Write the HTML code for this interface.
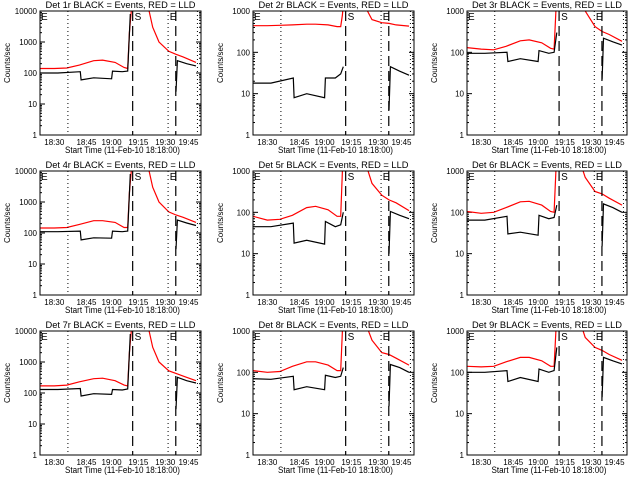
<!DOCTYPE html>
<html>
<head>
<meta charset="utf-8">
<style>
  html,body{margin:0;padding:0;background:#fff;}
  svg{display:block;}
  text{font-family:"Liberation Sans",sans-serif;fill:#000;}
</style>
</head>
<body>
<svg id="chart" width="640" height="480" viewBox="0 0 640 480" xmlns="http://www.w3.org/2000/svg">
  <rect x="0" y="0" width="640" height="480" fill="#fff"/>
</svg>
<script>
// ---- data (time in minutes from 18:22) ----
const blackTimes = [0,10,22.5,23,30,40,40.5,46,49,50.5,52,76,76.8,82,87.2];
const redTimes = [0,8,15,22,30,35,42,47,49,50,51.5,61,63,66.5,72,76,80,87.2];
const black1 = [100,100,110,60,70,65,115,110,115,8000,null,25,250,200,170];
const red1 = [140,140,145,180,250,260,220,150,140,2000,20000,10000,3000,1000,500,400,330,220];
const black2 = [18,18,24,8,10,8,24,24,30,45,null,4,45,35,28];
const red2 = [440,440,450,460,480,480,460,420,420,800,5000,3000,1200,620,520,500,460,430];
const black3 = [95,95,100,60,70,60,110,95,100,300,null,22,220,180,150];
const red3 = [130,120,115,140,190,200,170,125,120,1000,5000,5000,2500,1000,420,320,270,185];
const black4 = [110,110,115,60,70,68,115,110,115,8000,null,30,260,210,175];
const red4 = [145,145,150,190,250,250,220,150,150,2000,20000,10000,3000,1000,480,380,320,220];
const black5 = [45,45,55,18,21,17,60,45,50,100,null,10,105,85,70];
const red5 = [80,65,68,85,130,140,115,80,80,1000,5000,3000,1500,500,260,200,170,110];
const black6 = [65,65,80,30,33,28,85,70,75,150,null,15,160,130,100];
const red6 = [105,95,100,130,180,185,150,105,100,1000,5000,3000,2000,700,320,280,220,150];
const black7 = [130,130,140,80,95,90,130,125,135,8000,null,30,320,250,210];
const red7 = [170,170,180,230,290,300,250,180,170,2000,20000,10000,3000,1000,520,430,350,250];
const black8 = [70,68,80,38,45,38,85,75,80,130,null,15,155,130,100];
const red8 = [110,100,105,140,180,180,150,110,110,1000,5000,3000,1500,600,300,270,220,150];
const black9 = [100,100,110,60,75,60,120,100,110,400,null,25,230,190,160];
const red9 = [140,135,140,180,230,230,190,140,140,1000,5000,3000,2000,700,400,340,270,195];
const yMaxes = [10000,1000,1000,10000,1000,1000,10000,1000,1000];
const xTickLabels = ["18:30","18:45","19:00","19:15","19:30","19:45"];
const xTickTimes = [8,26,40,55,70,83];
const dottedTimes = [15.6,71.6,88];
const dashedTimes = [51.8,75.9];
const startTime = 0, endTime = 90;

const blacks = [black1,black2,black3,black4,black5,black6,black7,black8,black9];
const reds = [red1,red2,red3,red4,red5,red6,red7,red8,red9];

const svg = document.getElementById('chart');
const NS = 'http://www.w3.org/2000/svg';
function mk(tag, attrs, parent){
  const e = document.createElementNS(NS, tag);
  for (const k in attrs) e.setAttribute(k, attrs[k]);
  (parent||svg).appendChild(e);
  return e;
}
const colLeft = [40,253,467], colRight = [201,414,627];
const rowTop = [11,171,331], plotH = 124;

for (let p = 0; p < 9; p++){
  const r = Math.floor(p/3), c = p%3;
  const L = colLeft[c], R = colRight[c], T = rowTop[r], B = T + plotH;
  const yMax = yMaxes[p];
  const dec = Math.log10(yMax);
  const xS = t => L + (t - startTime)/(endTime - startTime)*(R - L);
  const yS = v => B - Math.log10(v)/dec*(B - T);

  const g = mk('g', {});
  
  

  const clipId = 'clip' + p;
  const cp = mk('clipPath', {id: clipId}, g);
  mk('rect', {x: L, y: T, width: R-L, height: B-T}, cp);

  // title
  const title = mk('text', {x: (L+R)/2, y: T-3, 'font-size': 9.5, 'text-anchor': 'middle', textLength: 150, lengthAdjust: 'spacingAndGlyphs'}, g);
  title.textContent = 'Det ' + (p+1) + 'r BLACK = Events, RED = LLD';
  
  

  // y-axis title
  const cy = (T+B)/2 - 10;
  const yt = mk('text', {x: L-30, y: cy, 'font-size': 8, 'text-anchor': 'middle', transform: 'rotate(-90 ' + (L-30) + ' ' + cy + ')'}, g);
  yt.textContent = 'Counts/sec';
  
  

  // y ticks
  for (let d = 0; d <= dec; d++){
    const v = Math.pow(10, d);
    const y = yS(v);
    const lab = mk('text', {x: L-3, y: y+3, 'font-size': 8, 'text-anchor': 'end'}, g);
    lab.textContent = String(v);
    
    
    mk('line', {x1: L, x2: L+5, y1: y, y2: y, stroke: '#000', 'stroke-width': 1}, g);
    mk('line', {x1: R, x2: R-5, y1: y, y2: y, stroke: '#000', 'stroke-width': 1}, g);
    if (d < dec){
      for (let m = 2; m <= 9; m++){
        const ym = yS(v*m);
        mk('line', {x1: L, x2: L+2, y1: ym, y2: ym, stroke: '#000', 'stroke-width': 1}, g);
        mk('line', {x1: R, x2: R-2, y1: ym, y2: ym, stroke: '#000', 'stroke-width': 1}, g);
      }
    }
  }
  // x tick labels
  for (let i = 0; i < xTickLabels.length; i++){
    const lab = mk('text', {x: xS(xTickTimes[i]), y: B+10, 'font-size': 8, 'text-anchor': 'middle'}, g);
    lab.textContent = xTickLabels[i];
    
    
  }
  const xt = mk('text', {x: (L+R)/2 + 2, y: B+18, 'font-size': 9, 'text-anchor': 'middle', textLength: 115, lengthAdjust: 'spacingAndGlyphs'}, g);
  xt.textContent = 'Start Time (11-Feb-10 18:18:00)';
  
  

  // data lines
  function series(times, vals, color, name){
    let d = '', pen = false;
    for (let i = 0; i < times.length; i++){
      const v = vals[i];
      if (v == null){ pen = false; continue; }
      d += (pen ? 'L' : 'M') + xS(times[i]).toFixed(1) + ' ' + yS(v).toFixed(1) + ' ';
      pen = true;
    }
    const path = mk('path', {d: d, fill: 'none', stroke: color, 'stroke-width': 1.2, 'clip-path': 'url(#' + clipId + ')'}, g);
    
    
  }
  series(redTimes, reds[p], '#ff0000', 'red-lld-series');
  series(blackTimes, blacks[p], '#000000', 'black-events-series');

  // vertical markers
  for (const t of dottedTimes){
    const ln = mk('line', {x1: xS(t), x2: xS(t), y1: T, y2: B, stroke: '#000', 'stroke-width': 1, 'stroke-dasharray': '1 3'}, g);
    
    
  }
  for (const t of dashedTimes){
    const ln = mk('line', {x1: xS(t), x2: xS(t), y1: T, y2: B, stroke: '#000', 'stroke-width': 1.2, 'stroke-dasharray': '10 5'}, g);
    
    
  }
  const labs = [['E', L+1], ['S', xS(dashedTimes[0])+2], ['E', xS(dashedTimes[1])-6]];
  for (const [s, x] of labs){
    const m = mk('text', {x: x, y: T+9, 'font-size': 10}, g);
    m.textContent = s;
    
    
  }

  // frame
  const fr = mk('rect', {x: L, y: T, width: R-L, height: B-T, fill: 'none', stroke: '#000', 'stroke-width': 1}, g);
  
  
}
</script>
</body>
</html>
